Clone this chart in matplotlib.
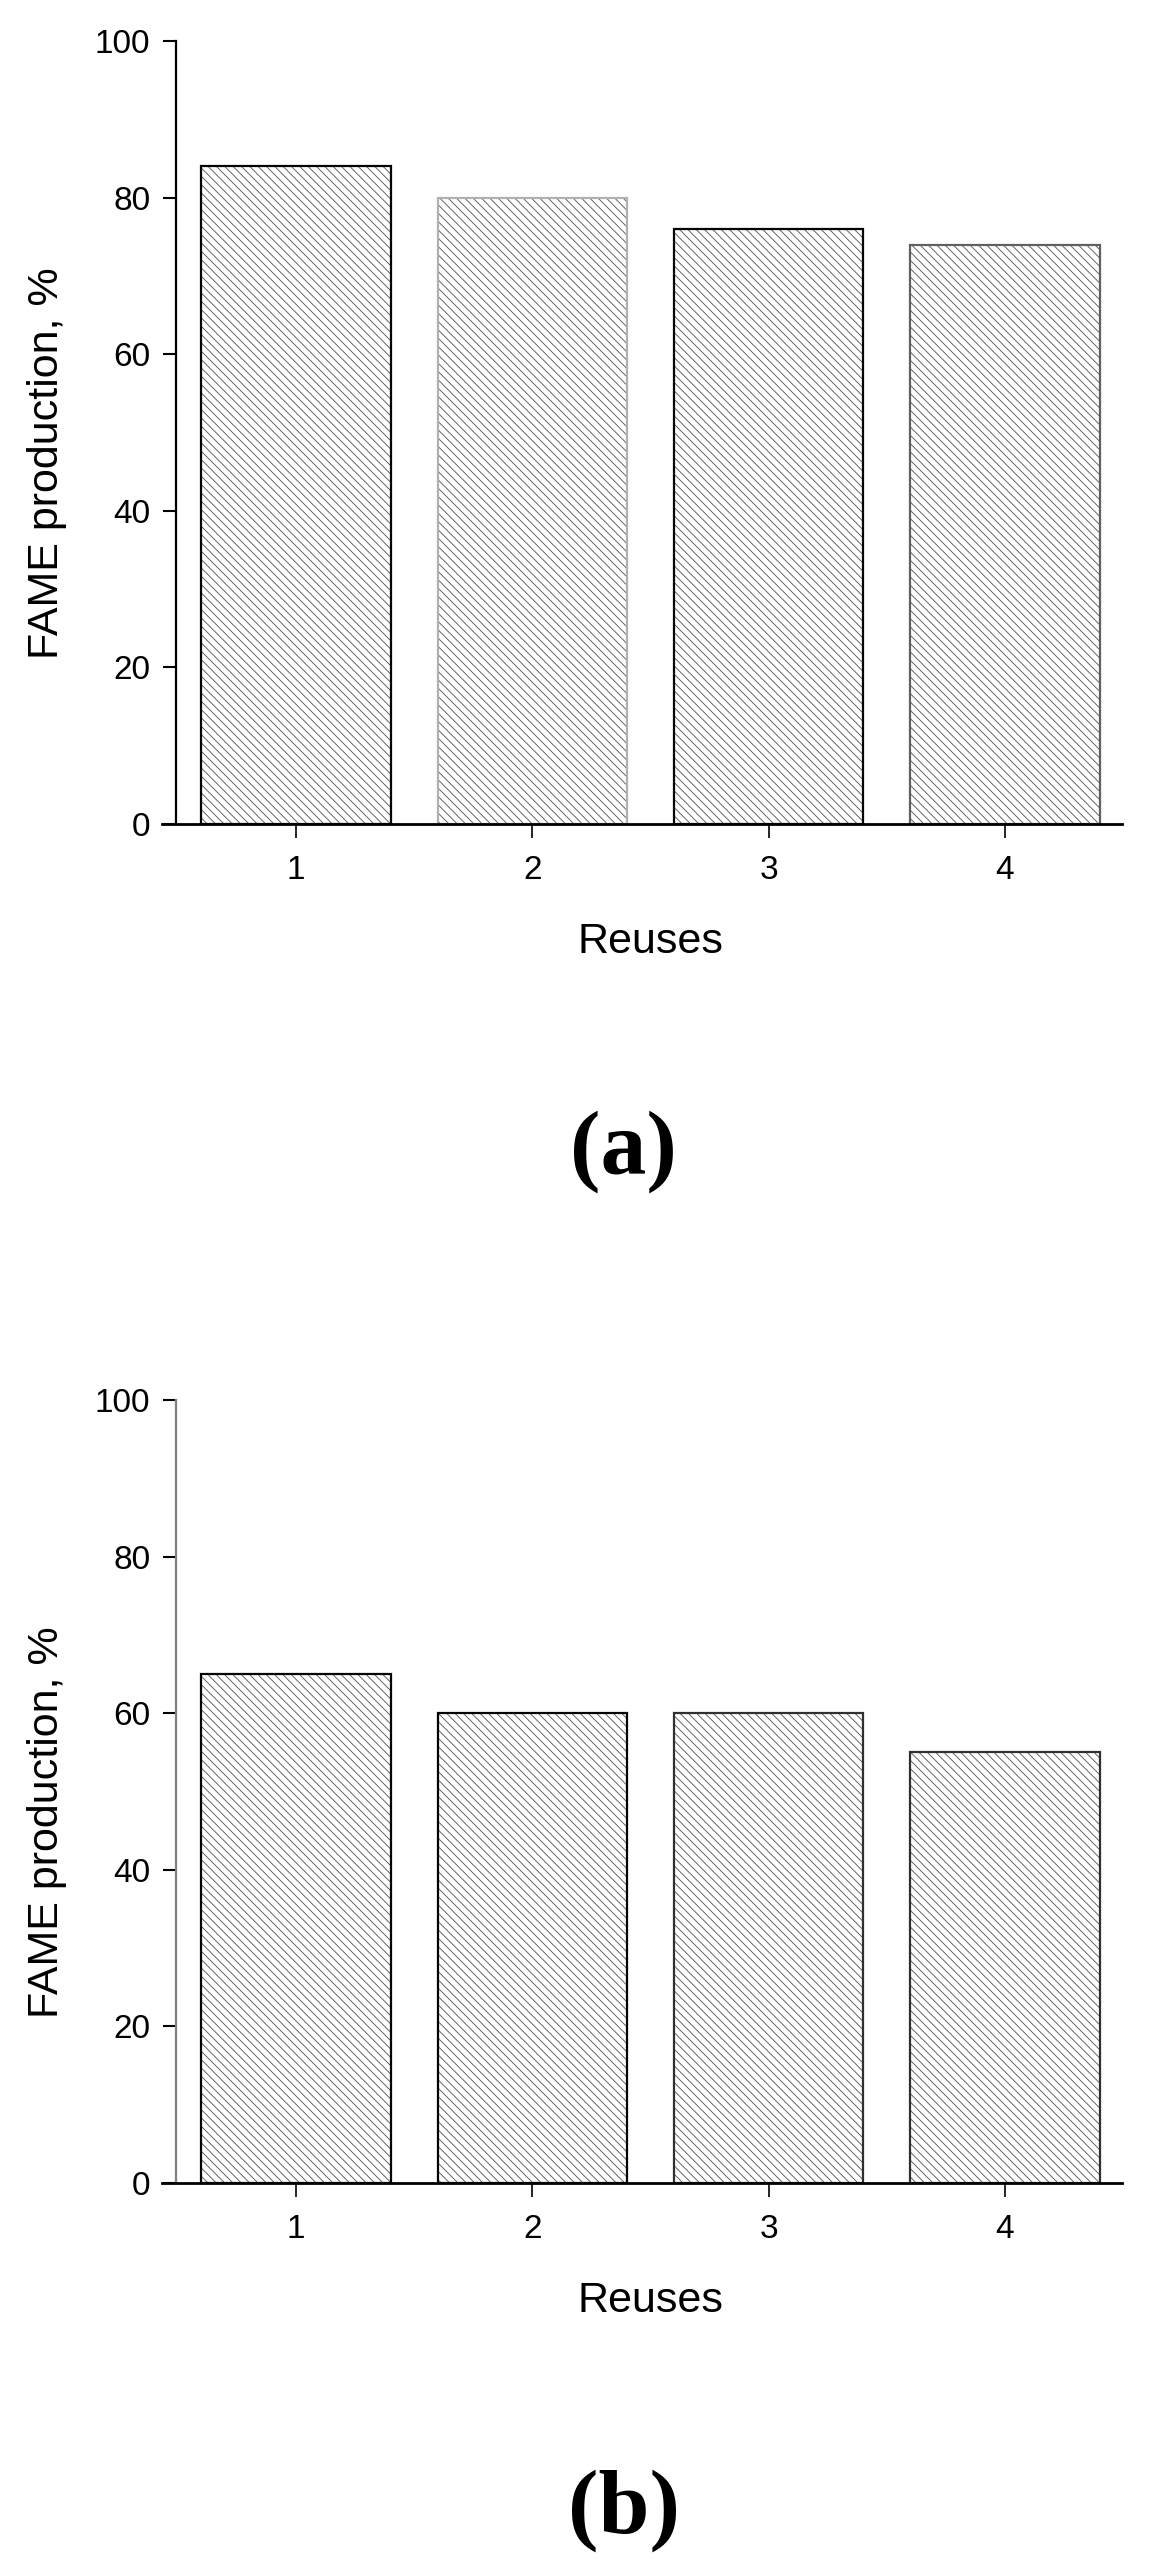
import matplotlib
matplotlib.use("Agg")
import matplotlib.pyplot as plt

# ---- data ----
reuses = [1, 2, 3, 4]
fame_a = [84, 80, 76, 74]
fame_b = [65, 60, 60, 55]
yticks = [0, 20, 40, 60, 80, 100]
ylabel = "FAME production, %"
xlabel = "Reuses"
panel_labels = ["(a)", "(b)"]

plt.rcParams['font.family'] = ['Liberation Sans', 'DejaVu Sans']
plt.rcParams['hatch.linewidth'] = 0.65

W, H = 1154, 2574
fig = plt.figure(figsize=(W / 100, H / 100), dpi=100)

def px_axes(top_px, bottom_px, left_px=162, right_px=1122):
    return [left_px / W, 1 - bottom_px / H, (right_px - left_px) / W, (bottom_px - top_px) / H]

ax1 = fig.add_axes(px_axes(41, 824))
ax2 = fig.add_axes(px_axes(1400, 2183))

edge_a = ['black', '#b0b0b0', 'black', '#606060']
edge_b = ['black', 'black', '#303030', '#303030']

def draw(ax, values, edges, ycolor):
    ax.bar(reuses, values, width=0.8, color='white', edgecolor='#5a5a5a',
           linewidth=0, hatch='\\\\\\\\', zorder=2)
    ax.bar(reuses, values, width=0.8, fill=False, edgecolor=edges,
           linewidth=1.6, zorder=3)
    ax.set_xlim(0.433, 4.495)
    ax.set_ylim(0, 100)
    ax.set_yticks(yticks)
    ax.set_xticks(reuses)
    for s in ['top', 'right']:
        ax.spines[s].set_visible(False)
    ax.spines['left'].set_position(('data', 0.492))
    ax.spines['left'].set_bounds(0, 100)
    ax.spines['left'].set_color(ycolor)
    ax.spines['left'].set_linewidth(1.6)
    ax.spines['bottom'].set_linewidth(2.0)
    ax.spines['bottom'].set_zorder(4)
    ax.tick_params(axis='y', direction='out', length=9.5, width=1.5,
                   labelsize=24, pad=9, color='black')
    ax.tick_params(axis='x', direction='out', length=10, width=1.2,
                   labelsize=24, pad=12, color='black')
    ax.text(-0.1198, 0.461, ylabel, rotation=90, ha='center', va='center',
            fontsize=31, transform=ax.transAxes)
    ax.text(0.509, -0.125, xlabel, ha='center', va='top', fontsize=31,
            transform=ax.transAxes)

draw(ax1, fame_a, edge_a, 'black')
draw(ax2, fame_b, edge_b, '#808080')

fig.text(623 / W, 1 - 1152 / H, panel_labels[0], ha='center', va='center',
         fontsize=66, fontweight='bold', family=['Liberation Serif', 'DejaVu Serif'])
fig.text(624 / W, 1 - 2511 / H, panel_labels[1], ha='center', va='center',
         fontsize=66, fontweight='bold', family=['Liberation Serif', 'DejaVu Serif'])

fig.savefig("out.png", dpi=100)
